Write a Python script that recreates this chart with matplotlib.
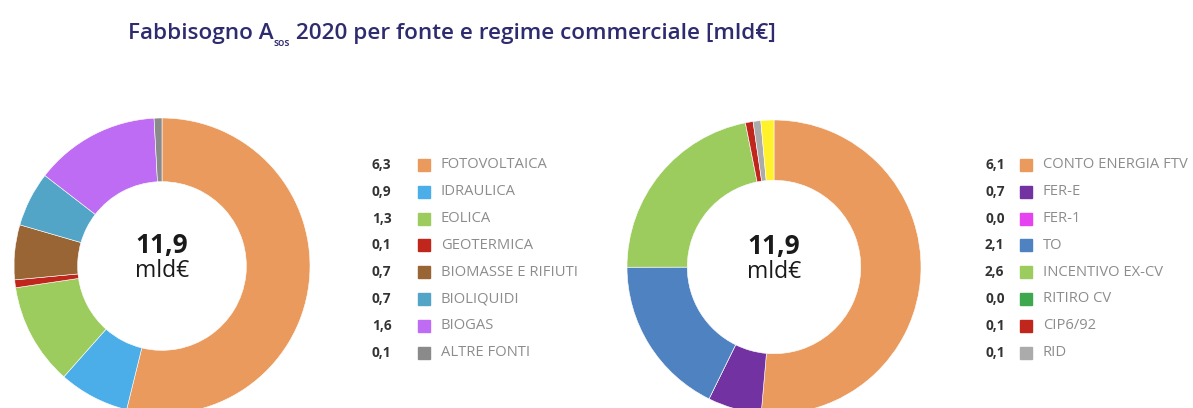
import matplotlib
matplotlib.use("Agg")
import matplotlib.pyplot as plt
from matplotlib.patches import Rectangle

# left donut: per fonte
fonte_labels = ["FOTOVOLTAICA", "IDRAULICA", "EOLICA", "GEOTERMICA",
                "BIOMASSE E RIFIUTI", "BIOLIQUIDI", "BIOGAS", "ALTRE FONTI"]
fonte_values = [6.3, 0.9, 1.3, 0.1, 0.7, 0.7, 1.6, 0.1]
fonte_colors = ["#E99A5C", "#4BAEE9", "#9CCB5E", "#C0261C",
                "#9A6535", "#52A5C6", "#BD6CF3", "#8A8A8A"]

# right donut: per regime commerciale (last yellow slice has no legend entry)
regime_labels = ["CONTO ENERGIA FTV", "FER-E", "FER-1", "TO",
                 "INCENTIVO EX-CV", "RITIRO CV", "CIP6/92", "RID"]
regime_values = [6.1, 0.7, 0.0, 2.1, 2.6, 0.0, 0.1, 0.1]
regime_colors = ["#E99A5C", "#7232A2", "#E543F0", "#4F82C0",
                 "#9CCB5E", "#3EA84F", "#C0261C", "#ABABAB"]
extra_value = 0.17
extra_color = "#FFF22A"

totale = ["11,9", "11,9"]

W, H = 1193, 408
fig = plt.figure(figsize=(W / 100, H / 100), dpi=100)
fig.patch.set_facecolor("white")
FONT = "Open Sans"


def px(x, y):
    return x / W, 1 - y / H


def donut(cx, cy, r, vals, cols, width, label):
    ax = fig.add_axes([(cx - r) / W, (H - cy - r) / H, 2 * r / W, 2 * r / H])
    ax.pie(vals, colors=cols, startangle=90, counterclock=False, radius=1,
           wedgeprops=dict(width=width, edgecolor="white", linewidth=0.4))
    ax.set_xlim(-1, 1)
    ax.set_ylim(-1, 1)
    ax.axis("off")
    ax.text(0, 0.05, label, ha="center", va="bottom", fontsize=19,
            fontweight="bold", color="#1a1a1a", family=FONT)
    ax.text(0, 0.05, "mld€", ha="center", va="top", fontsize=16.5,
            color="#1a1a1a", family=FONT)


def legend(xv, xs, xl, y0, labels, vals, cols):
    for i, (lab, v, c) in enumerate(zip(labels, vals, cols)):
        y = y0 + i * 26.8
        fig.text(*px(xv, y), f"{v:.1f}".replace(".", ","), ha="left", va="center",
                 fontsize=9.8, fontweight="bold", color="#333333", family=FONT)
        x0, y1 = px(xs, y + 6)
        fig.add_artist(Rectangle((x0, y1), 12 / W, 12 / H, color=c,
                                 transform=fig.transFigure))
        fig.text(*px(xl, y), lab, ha="left", va="center", fontsize=10.6,
                 color="#8c8c8c", family=FONT)


donut(162, 266, 148, fonte_values, fonte_colors, 0.43, totale[0])
donut(774, 267, 147, regime_values + [extra_value], regime_colors + [extra_color],
      0.41, totale[1])

legend(372, 418, 441, 165, fonte_labels, fonte_values, fonte_colors)
legend(985, 1020, 1043, 165, regime_labels, regime_values, regime_colors)

# title with subscript
tcol = "#2E2B6E"
fig.canvas.draw()
r = fig.canvas.get_renderer()
t1 = fig.text(*px(128, 39), "Fabbisogno A", fontsize=16.2, fontweight="semibold",
              color=tcol, family=FONT, va="baseline")
x = t1.get_window_extent(r).x1
t2 = fig.text(x / W, 1 - 46 / H, "sos", fontsize=7.5, fontweight="semibold",
              color=tcol, family=FONT, va="baseline")
x = t2.get_window_extent(r).x1
fig.text(x / W, 1 - 39 / H, " 2020 per fonte e regime commerciale [mld€]",
         fontsize=16.2, fontweight="semibold", color=tcol, family=FONT,
         va="baseline")

fig.savefig("out.png", dpi=100, facecolor="white")
